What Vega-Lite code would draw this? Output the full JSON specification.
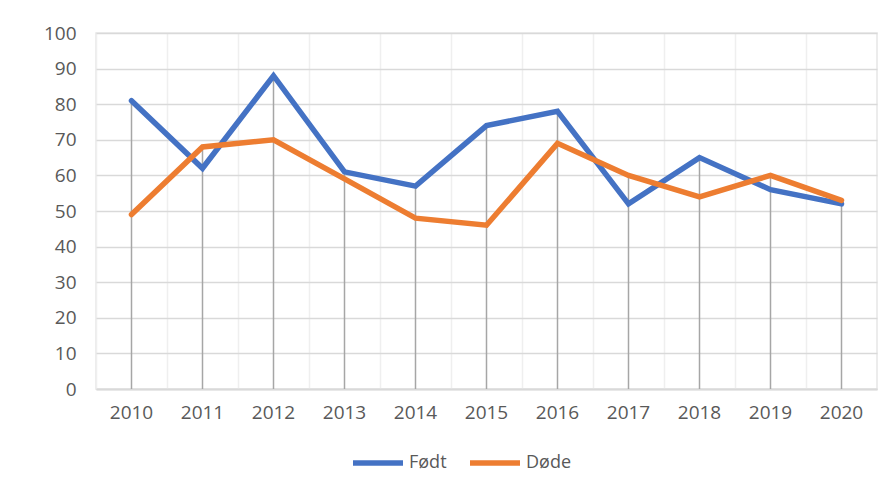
{
  "$schema": "https://vega.github.io/schema/vega-lite/v6.json",
  "width": 781,
  "height": 356,
  "autosize": {"type": "none"},
  "padding": {"left": 96, "top": 33, "right": 16, "bottom": 95},
  "background": "white",
  "config": {
    "view": {"stroke": "#e6e6e6", "strokeWidth": 1.5},
    "font": "Open Sans"
  },
  "data": {
    "values": [
      {"year": "2010", "serie": "Født", "value": 81},
      {"year": "2011", "serie": "Født", "value": 62},
      {"year": "2012", "serie": "Født", "value": 88},
      {"year": "2013", "serie": "Født", "value": 61},
      {"year": "2014", "serie": "Født", "value": 57},
      {"year": "2015", "serie": "Født", "value": 74},
      {"year": "2016", "serie": "Født", "value": 78},
      {"year": "2017", "serie": "Født", "value": 52},
      {"year": "2018", "serie": "Født", "value": 65},
      {"year": "2019", "serie": "Født", "value": 56},
      {"year": "2020", "serie": "Født", "value": 52},
      {"year": "2010", "serie": "Døde", "value": 49},
      {"year": "2011", "serie": "Døde", "value": 68},
      {"year": "2012", "serie": "Døde", "value": 70},
      {"year": "2013", "serie": "Døde", "value": 59},
      {"year": "2014", "serie": "Døde", "value": 48},
      {"year": "2015", "serie": "Døde", "value": 46},
      {"year": "2016", "serie": "Døde", "value": 69},
      {"year": "2017", "serie": "Døde", "value": 60},
      {"year": "2018", "serie": "Døde", "value": 54},
      {"year": "2019", "serie": "Døde", "value": 60},
      {"year": "2020", "serie": "Døde", "value": 53}
    ]
  },
  "encoding": {
    "x": {
      "field": "year",
      "type": "ordinal",
      "scale": {"type": "band", "paddingInner": 0, "paddingOuter": 0},
      "axis": {
        "title": null,
        "labelAngle": 0,
        "labelFontSize": 19,
        "labelColor": "#595959",
        "labelPadding": 14,
        "ticks": false,
        "domain": true,
        "domainColor": "#d9d9d9",
        "domainWidth": 2,
        "grid": true,
        "gridColor": "#efefef",
        "gridWidth": 1.5,
        "bandPosition": 0
      }
    },
    "y": {
      "field": "value",
      "type": "quantitative",
      "scale": {"domain": [0, 100]},
      "axis": {
        "title": null,
        "values": [0, 10, 20, 30, 40, 50, 60, 70, 80, 90, 100],
        "labelFontSize": 19,
        "labelColor": "#595959",
        "labelPadding": 20,
        "labelOverlap": false,
        "ticks": false,
        "domain": false,
        "gridColor": "#d9d9d9",
        "gridWidth": 1.5
      }
    }
  },
  "layer": [
    {
      "transform": [
        {"aggregate": [{"op": "max", "field": "value", "as": "value"}], "groupby": ["year"]}
      ],
      "mark": {"type": "rule", "color": "#a6a6a6", "strokeWidth": 1.5},
      "encoding": {
        "y2": {"datum": 0}
      }
    },
    {
      "mark": {"type": "line", "strokeWidth": 5.5, "strokeCap": "round", "strokeJoin": "miter"},
      "encoding": {
        "color": {
          "field": "serie",
          "type": "nominal",
          "scale": {"domain": ["Født", "Døde"], "range": ["#4472c4", "#ed7d31"]},
          "legend": {
            "title": null,
            "orient": "none",
            "legendX": 254,
            "legendY": 402,
            "direction": "horizontal",
            "symbolType": "stroke",
            "symbolSize": 2500,
            "symbolStrokeWidth": 5.5,
            "labelFontSize": 18,
            "labelColor": "#595959",
            "labelOffset": 3,
            "columnPadding": 12
          }
        }
      }
    }
  ]
}
